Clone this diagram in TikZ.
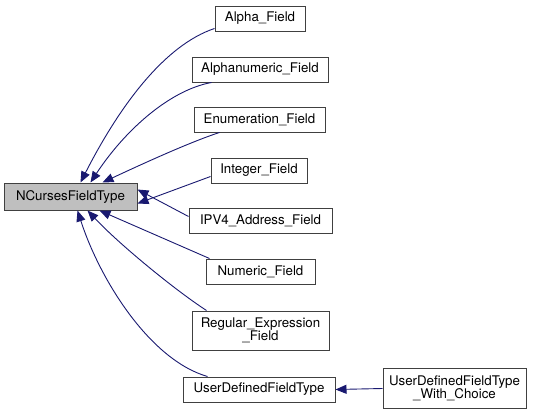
\documentclass[tikz,border=0pt]{standalone}
\usepackage{fontspec}
\setmainfont{TeX Gyre Heros}
\usetikzlibrary{arrows.meta}
\definecolor{edgeblue}{HTML}{191970}
\definecolor{boxborder}{HTML}{404040}
\definecolor{boxgray}{HTML}{BFBFBF}
\tikzset{
  cls/.style={draw=boxborder, line width=1pt, fill=white, inner sep=0pt, minimum height=25pt,
    align=center, font=\fontsize{13.3}{13}\selectfont},
  edge/.style={draw=edgeblue, line width=0.9pt, {Triangle[length=11pt,width=9pt]}-}
}
\begin{document}
\begin{tikzpicture}[x=1pt,y=-1pt]
\useasboundingbox (0,0) rectangle (541,415);
\node[cls, fill=boxgray, minimum width=133pt, minimum height=27pt] (nc) at (70.5,196.5) {NCursesFieldType};
\node[cls, minimum width=90pt] (alpha) at (260,18.5) {Alpha\_Field};
\node[cls, minimum width=136pt] (alnum) at (260,69.5) {Alphanumeric\_Field};
\node[cls, minimum width=131pt] (enum) at (259.5,119.5) {Enumeration\_Field};
\node[cls, minimum width=96pt] (int) at (259,170.5) {Integer\_Field};
\node[cls, minimum width=143pt] (ipv4) at (260.5,220.5) {IPV4\_Address\_Field};
\node[cls, minimum width=109pt] (num) at (260.5,271.5) {Numeric\_Field};
\node[cls, minimum width=137pt, minimum height=39pt] (regex) at (260.5,330.5) {Regular\_Expression\\\_Field};
\node[cls, minimum width=152pt] (user) at (259,389.5) {UserDefinedFieldType};
\node[cls, minimum width=143pt, minimum height=40pt] (choice) at (454.5,388.5) {UserDefinedFieldType\\\_With\_Choice};

\draw[edge] ([xshift=77pt]nc.north west) .. controls (120,105) and (165,45) .. ([yshift=3pt]alpha.south west);
\draw[edge] ([xshift=87pt]nc.north west) .. controls (125,130) and (170,90) .. ([xshift=20pt]alnum.south west);
\draw[edge] ([xshift=99pt]nc.north west) .. controls (140,165) and (190,142) .. ([xshift=26pt]enum.south west);
\draw[edge] ([yshift=-7pt]nc.east) -- ([yshift=-6pt]int.west);
\draw[edge] ([yshift=7pt]nc.east) -- ([yshift=4pt]ipv4.west);
\draw[edge] ([xshift=96pt]nc.south west) -- ([xshift=4pt]num.north west);
\draw[edge] ([xshift=84pt]nc.south west) .. controls (120,245) and (175,290) .. ([xshift=15pt]regex.north west);
\draw[edge] ([xshift=74pt]nc.south west) .. controls (100,280) and (150,360) .. ([xshift=25pt]user.north west);
\draw[edge] (user.east) -- (choice.west);
\end{tikzpicture}
\end{document}
